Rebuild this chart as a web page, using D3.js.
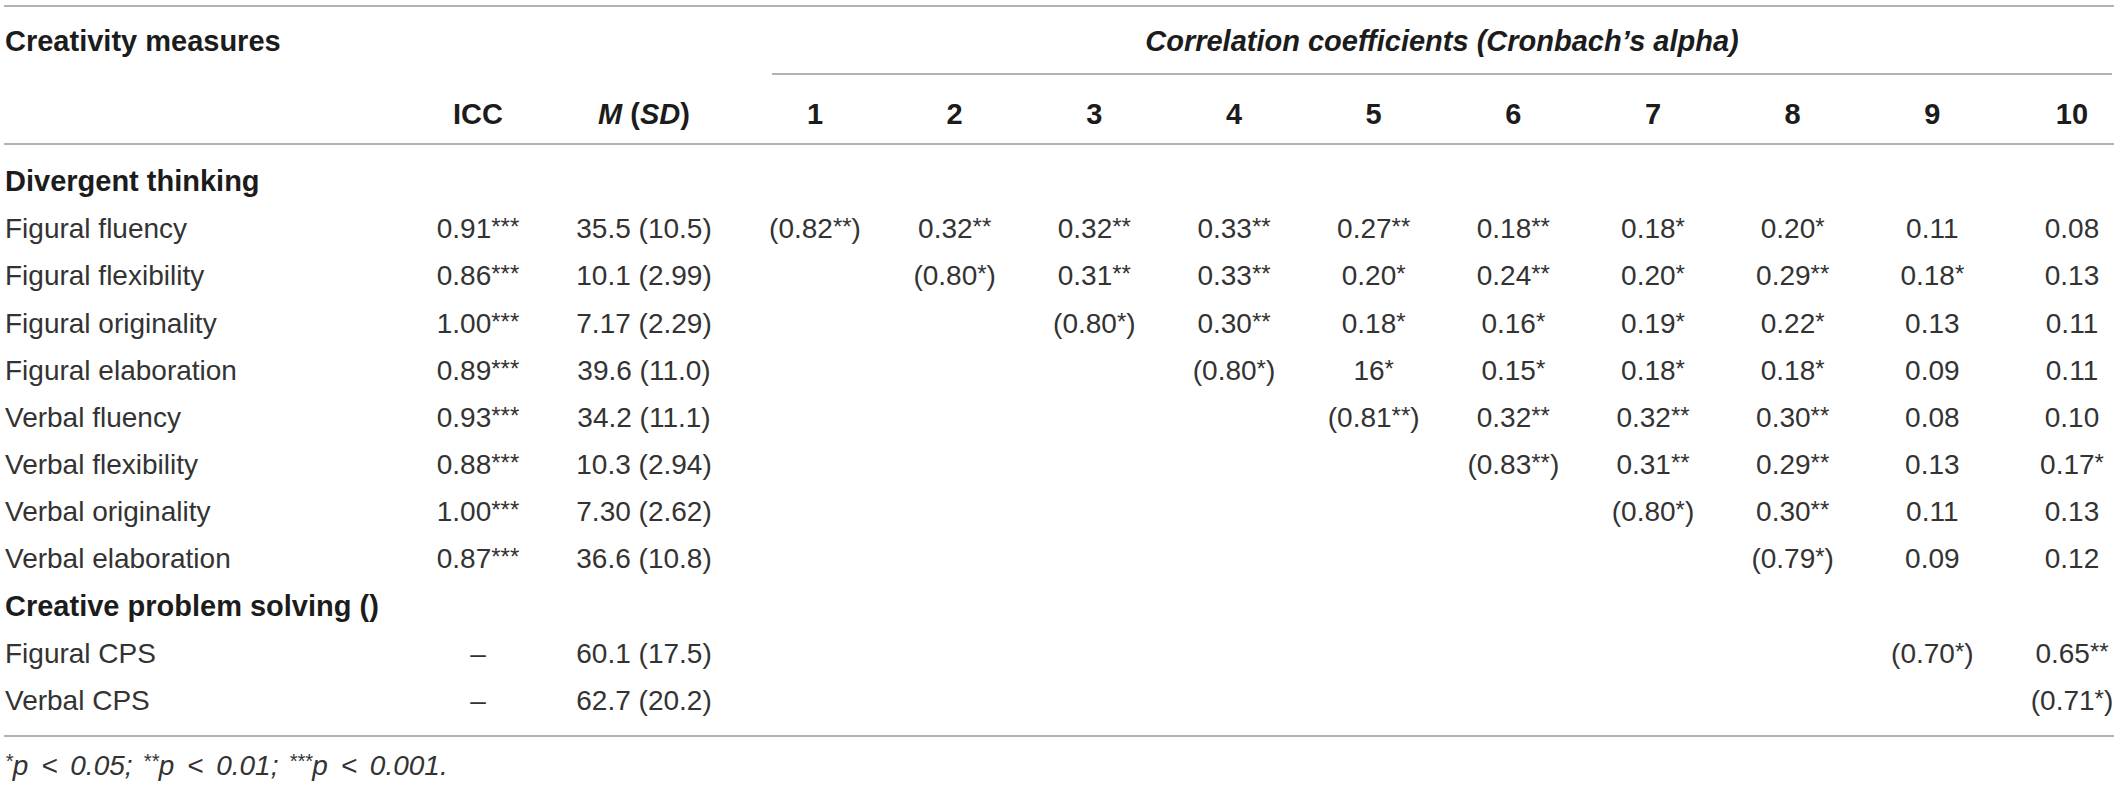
<!DOCTYPE html>
<html>
<head>
<meta charset="utf-8">
<script src="https://cdn.jsdelivr.net/npm/d3@7"></script>
<style>
body { margin: 0; background: #fff; }
text { font-family: "Liberation Sans", Arial, Helvetica, sans-serif; }
</style>
</head>
<body>
<div id="root"></div>
<script>
const WIDTH = 2118, HEIGHT = 785

// table content
const groupNames = ["Divergent thinking", "Creative problem solving ()"]
const measures = ["Figural fluency", "Figural flexibility", "Figural originality", "Figural elaboration",
	"Verbal fluency", "Verbal flexibility", "Verbal originality", "Verbal elaboration",
	"Figural CPS", "Verbal CPS"]
const measureGroup = [0, 0, 0, 0, 0, 0, 0, 0, 1, 1]
const iccValues = ["0.91***", "0.86***", "1.00***", "0.89***", "0.93***", "0.88***", "1.00***", "0.87***", "–", "–"]
const meanSd = ["35.5 (10.5)", "10.1 (2.99)", "7.17 (2.29)", "39.6 (11.0)", "34.2 (11.1)",
	"10.3 (2.94)", "7.30 (2.62)", "36.6 (10.8)", "60.1 (17.5)", "62.7 (20.2)"]
const corrCols = ["1", "2", "3", "4", "5", "6", "7", "8", "9", "10"]
// upper triangle, diagonal = Cronbach's alpha in brackets, "" = empty cell
const corr = [
	["(0.82**)", "0.32**", "0.32**", "0.33**", "0.27**", "0.18**", "0.18*", "0.20*", "0.11", "0.08"],
	["", "(0.80*)", "0.31**", "0.33**", "0.20*", "0.24**", "0.20*", "0.29**", "0.18*", "0.13"],
	["", "", "(0.80*)", "0.30**", "0.18*", "0.16*", "0.19*", "0.22*", "0.13", "0.11"],
	["", "", "", "(0.80*)", "16*", "0.15*", "0.18*", "0.18*", "0.09", "0.11"],
	["", "", "", "", "(0.81**)", "0.32**", "0.32**", "0.30**", "0.08", "0.10"],
	["", "", "", "", "", "(0.83**)", "0.31**", "0.29**", "0.13", "0.17*"],
	["", "", "", "", "", "", "(0.80*)", "0.30**", "0.11", "0.13"],
	["", "", "", "", "", "", "", "(0.79*)", "0.09", "0.12"],
	["", "", "", "", "", "", "", "", "(0.70*)", "0.65**"],
	["", "", "", "", "", "", "", "", "", "(0.71*)"],
]
const footnote = [["*", "p < 0.05;"], ["**", "p < 0.01;"], ["***", "p < 0.001."]]

const BODY_SIZE = 28, HEAD_SIZE = 29

// build the list of table lines: group headings + measures
const lines = []
measures.forEach((m, i) => {
	if (i === 0 || measureGroup[i] !== measureGroup[i - 1]) {
		lines.push({ type: 'group', label: groupNames[measureGroup[i]] })
	}
	lines.push({ type: 'item', label: m, i })
})

const y = d3.scaleLinear()
	.domain([0, lines.length - 1])
	.range([191, 710])

const xCorr = d3.scaleLinear()
	.domain([1, 10])
	.range([815, 2072])
const xIcc = 478, xMsd = 644, xLabel = 5

const svg = d3.select('#root')
	.append('svg')
	.attr('width', WIDTH)
	.attr('height', HEIGHT)
	.attr('viewBox', `0 0 ${WIDTH} ${HEIGHT}`)

// rules
const rules = [
	{ y: 6, x1: 4, x2: 2114 },
	{ y: 74, x1: 772, x2: 2112 },
	{ y: 144, x1: 4, x2: 2114 },
	{ y: 736, x1: 4, x2: 2114 },
]
svg.append('g')
	.selectAll('line')
	.data(rules)
	.enter()
	.append('line')
	.attr('x1', d => d.x1)
	.attr('x2', d => d.x2)
	.attr('y1', d => d.y)
	.attr('y2', d => d.y)
	.attr('stroke', '#9a9a9a')
	.attr('stroke-width', 1.6)

// header
const head = svg.append('g')
	.attr('font-size', HEAD_SIZE)
	.attr('font-weight', 'bold')
	.attr('fill', '#1c1c1c')

head.append('text')
	.attr('x', xLabel)
	.attr('y', 51)
	.text('Creativity measures')

head.append('text')
	.attr('x', (772 + 2112) / 2)
	.attr('y', 51)
	.attr('text-anchor', 'middle')
	.attr('font-style', 'italic')
	.text('Correlation coefficients (Cronbach’s alpha)')

head.append('text')
	.attr('x', xIcc)
	.attr('y', 124)
	.attr('text-anchor', 'middle')
	.text('ICC')

const msdHead = head.append('text')
	.attr('x', xMsd)
	.attr('y', 124)
	.attr('text-anchor', 'middle')
msdHead.append('tspan').attr('font-style', 'italic').text('M')
msdHead.append('tspan').text(' (')
msdHead.append('tspan').attr('font-style', 'italic').text('SD')
msdHead.append('tspan').text(')')

head.selectAll('.colhead')
	.data(corrCols)
	.enter()
	.append('text')
	.attr('class', 'colhead')
	.attr('x', (d, i) => xCorr(i + 1))
	.attr('y', 124)
	.attr('text-anchor', 'middle')
	.text(d => d)

// a cell value like "(0.82**)" -> "(0.82" + superscript stars + ")"
function writeCell(sel, str) {
	const m = str.match(/^(\(?)([^*()]+)(\**)(\)?)$/)
	if (!m) { sel.text(str); return }
	sel.append('tspan').text(m[1] + m[2])
	if (m[3]) {
		sel.append('tspan')
			.attr('font-size', 24)
			.attr('dy', -3)
			.text(m[3])
		if (m[4]) {
			sel.append('tspan').attr('dy', 3).text(m[4])
		}
	} else if (m[4]) {
		sel.append('tspan').text(m[4])
	}
}

// body
const body = svg.append('g')
	.attr('font-size', BODY_SIZE)
	.attr('fill', '#333')

const rows = body.selectAll('.row')
	.data(lines)
	.enter()
	.append('g')
	.attr('class', 'row')
	.attr('transform', (d, i) => `translate(0, ${y(i)})`)

rows.append('text')
	.attr('x', xLabel)
	.attr('font-weight', d => d.type === 'group' ? 'bold' : null)
	.attr('font-size', d => d.type === 'group' ? HEAD_SIZE : null)
	.attr('fill', d => d.type === 'group' ? '#1c1c1c' : null)
	.text(d => d.label)

const items = rows.filter(d => d.type === 'item')

items.append('text')
	.attr('x', xIcc)
	.attr('text-anchor', 'middle')
	.each(function(d) { writeCell(d3.select(this), iccValues[d.i]) })

items.append('text')
	.attr('x', xMsd)
	.attr('text-anchor', 'middle')
	.text(d => meanSd[d.i])

items.selectAll('.corr')
	.data(d => corr[d.i].map((v, j) => ({ v, j })).filter(c => c.v !== ''))
	.enter()
	.append('text')
	.attr('class', 'corr')
	.attr('x', c => xCorr(c.j + 1))
	.attr('text-anchor', 'middle')
	.each(function(c) { writeCell(d3.select(this), c.v) })

// footnote
const note = svg.append('text')
	.attr('x', xLabel)
	.attr('y', 775)
	.attr('font-size', BODY_SIZE)
	.attr('font-style', 'italic')
	.attr('fill', '#333')
	.attr('word-spacing', 5)

footnote.forEach(([stars, txt], i) => {
	note.append('tspan')
		.attr('font-size', 20)
		.attr('dy', -7)
		.text((i === 0 ? '' : ' ') + stars)
	note.append('tspan')
		.attr('dy', 7)
		.text(txt)
})
</script>
</body>
</html>
